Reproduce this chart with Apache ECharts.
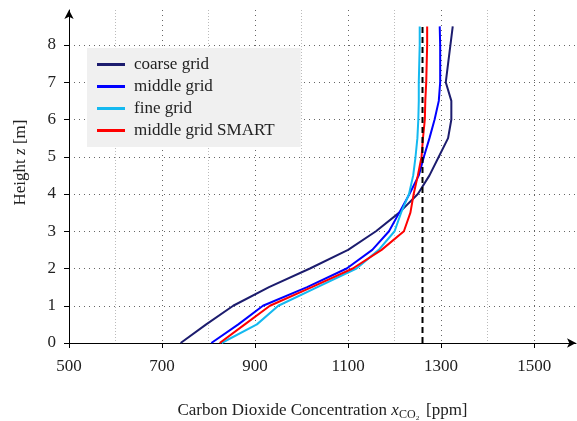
<!DOCTYPE html>
<html>
<head>
<meta charset="utf-8">
<script src="https://cdn.jsdelivr.net/npm/echarts@6/dist/echarts.min.js"></script>
<style>
html, body { margin: 0; padding: 0; background: #fff; }
#chart { width: 577px; height: 421px; }
</style>
</head>
<body>
<div id="chart"></div>
<script>
// heights [m]
var heights = [0, 0.5, 1, 1.5, 2, 2.5, 3, 3.5, 4, 4.5, 5, 5.5, 6, 6.5, 7, 7.5, 8, 8.5];
// concentrations [ppm]
var coarse = [740, 795, 853, 930, 1018, 1100, 1160, 1210, 1250, 1275, 1295, 1315, 1322, 1322, 1310, 1315, 1320, 1325];
var middle = [806, 864, 917, 1012, 1097, 1152, 1188, 1210, 1232, 1252, 1263, 1275, 1286, 1295, 1298, 1298, 1298, 1297];
var fine   = [828, 904, 950, 1034, 1118, 1166, 1200, 1214, 1231, 1240, 1245, 1249, 1251, 1252, 1252, 1253, 1254, 1254];
var smart  = [824, 878, 932, 1022, 1110, 1172, 1220, 1234, 1241, 1250, 1258, 1261, 1265, 1266, 1268, 1269, 1270, 1270];
var refValue = 1260;
var refHeights = [0, 8.5];
var xTicks = [500, 700, 900, 1100, 1300, 1500];
var xMinor = [600, 800, 1000, 1200, 1400];
var yTicks = [0, 1, 2, 3, 4, 5, 6, 7, 8];

var font = 'Liberation Serif';
var myChart = echarts.init(document.getElementById('chart'));

function pairs(xs) {
    return xs.map(function (v, i) { return [v, heights[i]]; });
}
function mkLine(name, vals, color) {
    return {
        name: name,
        type: 'line',
        data: pairs(vals),
        symbol: 'none',
        lineStyle: { color: color, width: 2 },
        itemStyle: { color: color }
    };
}

var option = {
    animation: false,
    textStyle: { fontFamily: font },
    grid: { left: 69, right: 1, top: 10, bottom: 78, outerBoundsMode: 'none', containLabel: false },
    legend: {
        orient: 'vertical',
        left: 87,
        top: 48,
        backgroundColor: '#f0f0f0',
        borderWidth: 0,
        padding: [8, 26, 8, 10],
        itemGap: 5,
        itemWidth: 28,
        itemHeight: 3,
        icon: 'rect',
        textStyle: { fontFamily: font, fontSize: 17, color: '#222', padding: [0, 0, 0, 4] },
        data: ['coarse grid', 'middle grid', 'fine grid', 'middle grid SMART']
    },
    xAxis: [{
        type: 'value',
        min: 500,
        max: 1590,
        interval: 200,
        name: '{n|Carbon Dioxide Concentration }{i|x}{s|CO₂}{n| [ppm]}',
        nameLocation: 'middle',
        nameGap: 58,
        nameTextStyle: {
            rich: {
                n: { fontFamily: font, fontSize: 17, color: '#222' },
                i: { fontFamily: font, fontSize: 17, fontStyle: 'italic', color: '#222' },
                s: { fontFamily: font, fontSize: 12, color: '#222', padding: [8, 2, 0, 0] }
            }
        },
        axisLine: { onZero: false, symbol: ['none', 'arrow'], symbolSize: [7, 9], lineStyle: { color: '#000', width: 1 } },
        axisTick: { inside: false, length: 5, customValues: xTicks, lineStyle: { color: '#000' } },
        axisLabel: {
            customValues: xTicks, fontFamily: font, fontSize: 17, color: '#222', margin: 15,
            formatter: function (v) { return String(v); }
        },
        splitLine: { show: true, lineStyle: { color: '#666', type: [1, 4], width: 1 } }
    }, {
        type: 'value',
        min: 500,
        max: 1590,
        interval: 100,
        show: true,
        axisLine: { show: false },
        axisTick: { show: false, customValues: xMinor },
        axisLabel: { show: false },
        splitLine: { show: true, lineStyle: { color: '#bbb', type: [1, 2], width: 1 } }
    }],
    yAxis: {
        type: 'value',
        min: 0,
        max: 8.94,
        name: '{n|Height }{i|z}{n| [m]}',
        nameLocation: 'middle',
        nameGap: 40,
        nameRotate: 90,
        nameTextStyle: {
            padding: [0, 0, 0, 28],
            rich: {
                n: { fontFamily: font, fontSize: 17, color: '#222' },
                i: { fontFamily: font, fontSize: 17, fontStyle: 'italic', color: '#222' }
            }
        },
        axisLine: { symbol: ['none', 'arrow'], symbolSize: [7, 9], lineStyle: { color: '#000', width: 1 } },
        axisTick: { length: 5, customValues: yTicks, lineStyle: { color: '#000' } },
        axisLabel: { customValues: yTicks, fontFamily: font, fontSize: 17, color: '#222', margin: 13 },
        splitLine: { show: true, lineStyle: { color: '#666', type: [1, 4], width: 1 } }
    },
    series: [
        mkLine('coarse grid', coarse, '#1c1c6e'),
        mkLine('middle grid', middle, '#0000ff'),
        mkLine('fine grid', fine, '#14b9f0'),
        mkLine('middle grid SMART', smart, '#ff0000'),
        {
            name: 'reference',
            type: 'line',
            data: refHeights.map(function (h) { return [refValue, h]; }),
            symbol: 'none',
            lineStyle: { color: '#000', width: 2, type: [6, 4] },
            z: 5
        }
    ]
};
myChart.setOption(option);
</script>
</body>
</html>
